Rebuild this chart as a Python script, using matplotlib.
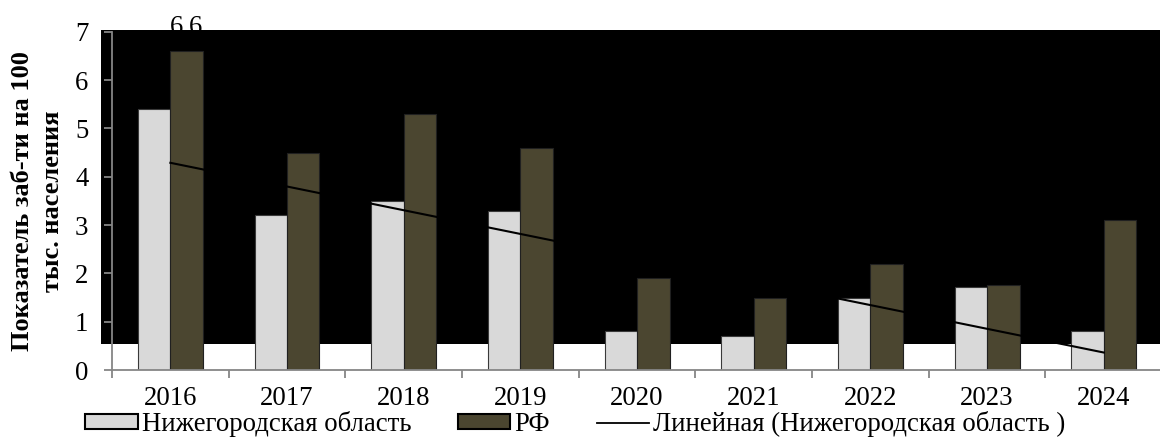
import numpy as np
import matplotlib
matplotlib.use("Agg")
import matplotlib.pyplot as plt
from matplotlib.patches import Rectangle
from matplotlib.lines import Line2D
from matplotlib.patches import Patch

years = ["2016", "2017", "2018", "2019", "2020", "2021", "2022", "2023", "2024"]
nizh = [5.4, 3.2, 3.5, 3.3, 0.8, 0.7, 1.5, 1.72, 0.8]
rf = [6.6, 4.5, 5.3, 4.6, 1.9, 1.5, 2.2, 1.75, 3.1]
series_names = ["Нижегородская область", "РФ", "Линейная (Нижегородская область )"]
ylabel = "Показатель заб-ти на 100\nтыс. населения"
rf_label = "6,6"

plt.rcParams['font.family'] = ['Liberation Serif', 'DejaVu Serif']

fig = plt.figure(figsize=(11.6, 4.37), dpi=100)
ax = fig.add_axes([0.0966, 0.1533, 0.9052, 0.7742])

x = np.arange(len(years))
w = 0.278
c_nizh = "#D9D9D9"
c_rf = "#4B4630"
fs = 19.3

ax.bar(x - w / 2, nizh, width=w, color=c_nizh, edgecolor="#3a3a3a", linewidth=0.8, zorder=2)
ax.bar(x + w / 2, rf, width=w, color=c_rf, edgecolor="#202020", linewidth=0.8, zorder=2)

# linear trend of Nizhny Novgorod series
k, b = np.polyfit(x + 1, nizh, 1)
ax.plot(x, k * (x + 1) + b, color="black", lw=1.5, zorder=3)

# data label (partly hidden behind dark background block)
ax.text(x[0] + w / 2, 6.95, rf_label, ha="center", va="baseline", fontsize=fs,
        zorder=0.2, clip_on=False)

# dark background block
ax.add_patch(Rectangle((-0.594, 0.54), 9.2, 6.49, facecolor="black", edgecolor="none",
                       zorder=0.5, clip_on=False))

ax.set_xlim(-0.5, 8.5)
ax.set_ylim(0, 7)
ax.set_yticks(range(0, 8))
ax.set_xticks(x)
ax.set_xticklabels(years)
ax.set_xticks(np.arange(-0.5, 9.0, 1.0), minor=True)

gray = "#868686"
for s in ["top", "right"]:
    ax.spines[s].set_visible(False)
for s in ["left", "bottom"]:
    ax.spines[s].set_color(gray)
    ax.spines[s].set_linewidth(1.3)
    ax.spines[s].set_zorder(2.5)

ax.tick_params(axis="x", which="major", length=0, pad=11.5, labelsize=fs)
ax.tick_params(axis="x", which="minor", length=6, width=1.3, color=gray, direction="out")
ax.tick_params(axis="y", length=6, width=1.3, color=gray, pad=11, labelsize=fs)
ax.set_facecolor("white")

ax.set_ylabel(ylabel, fontsize=19, fontweight="bold", linespacing=1.4, labelpad=8)

handles = [
    Patch(facecolor=c_nizh, edgecolor="black", linewidth=1.5),
    Patch(facecolor=c_rf, edgecolor="black", linewidth=1.5),
    Line2D([0], [0], color="black", lw=1.3),
]
fig.legend(handles, series_names, loc="center", bbox_to_anchor=(0.496, 0.03), ncol=3,
           frameon=False, fontsize=fs, handlelength=1.95, handleheight=0.45,
           handletextpad=0.15, columnspacing=1.75, borderaxespad=0, borderpad=0)

fig.savefig("out.png", dpi=100)
